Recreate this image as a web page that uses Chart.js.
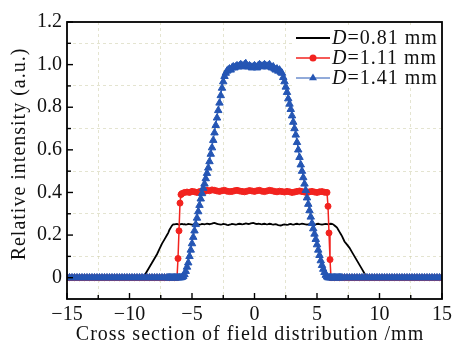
<!DOCTYPE html>
<html>
<head>
<meta charset="utf-8">
<script src="https://cdn.jsdelivr.net/npm/chart.js@4/dist/chart.umd.min.js"></script>
<style>
html,body{margin:0;padding:0;background:#fff;}
#wrap{width:456px;height:345px;}
</style>
</head>
<body>
<div id="wrap"><canvas id="c" width="456" height="345"></canvas></div>
<script>
// ---- data ----
const positionsMm = [
-15,-14.8,-14.6,-14.4,-14.2,-14,-13.8,-13.6,-13.4,-13.2,-13,-12.8,-12.6,-12.4,-12.2,-12,-11.8,-11.6,-11.4,-11.2,
-11,-10.8,-10.6,-10.4,-10.2,-10,-9.8,-9.6,-9.4,-9.2,-9,-8.8,-8.6,-8.4,-8.2,-8,-7.8,-7.6,-7.4,-7.2,-7,
-6.9,-6.8,-6.7,-6.6,-6.5,-6.4,-6.3,-6.2,-6.1,-6,-5.9,-5.8,-5.7,-5.6,-5.5,-5.4,-5.3,-5.2,-5.1,-5,
-4.9,-4.8,-4.7,-4.6,-4.5,-4.4,-4.3,-4.2,-4.1,-4,-3.9,-3.8,-3.7,-3.6,-3.5,-3.4,-3.3,-3.2,-3.1,-3,
-2.9,-2.8,-2.7,-2.6,-2.5,-2.4,-2.3,-2.2,-2.1,-2,-1.9,-1.8,-1.7,-1.6,-1.5,-1.4,-1.3,-1.2,-1.1,-1,
-0.9,-0.8,-0.7,-0.6,-0.5,-0.4,-0.3,-0.2,-0.1,0,0.1,0.2,0.3,0.4,0.5,0.6,0.7,0.8,0.9,1,
1.1,1.2,1.3,1.4,1.5,1.6,1.7,1.8,1.9,2,2.1,2.2,2.3,2.4,2.5,2.6,2.7,2.8,2.9,3,
3.1,3.2,3.3,3.4,3.5,3.6,3.7,3.8,3.9,4,4.1,4.2,4.3,4.4,4.5,4.6,4.7,4.8,4.9,5,
5.1,5.2,5.3,5.4,5.5,5.6,5.7,5.8,5.9,6,6.1,6.2,6.3,6.4,6.5,6.6,6.7,6.8,6.9,
7,7.2,7.4,7.6,7.8,8,8.2,8.4,8.6,8.8,9,9.2,9.4,9.6,9.8,10,10.2,10.4,10.6,10.8,
11,11.2,11.4,11.6,11.8,12,12.2,12.4,12.6,12.8,13,13.2,13.4,13.6,13.8,14,14.2,14.4,14.6,14.8,15
];

const intensityD081 = [
0,0,0,0,0,0,0,0,0,0,0,0,0,0,0,0,0,0,0,0,0,0,0,0,0,0,0,0,0,0,0,
0.01,0.03,0.05,0.07,0.09,0.11,0.135,0.16,0.18,0.2,
0.21,0.225,0.235,0.245,0.25,
0.25,0.251,0.252,0.25,0.249,0.251,0.252,0.25,0.251,0.249,
0.25,0.252,0.251,0.25,0.249,0.25,0.252,0.253,0.251,0.25,
0.249,0.25,0.252,0.251,0.25,0.252,0.254,0.253,0.251,0.252,
0.254,0.256,0.257,0.255,0.253,0.251,0.25,0.249,0.25,0.252,
0.251,0.25,0.248,0.247,0.249,0.25,0.252,0.251,0.25,0.249,
0.25,0.252,0.253,0.252,0.25,0.251,0.253,0.255,0.254,0.252,
0.253,0.255,0.256,0.257,0.255,0.253,0.252,0.254,0.253,0.251,
0.25,0.252,0.253,0.251,0.25,0.251,0.253,0.252,0.25,0.249,
0.25,0.251,0.249,0.247,0.246,0.245,0.247,0.249,0.25,0.249,
0.248,0.249,0.251,0.252,0.25,0.249,0.25,0.252,0.253,0.251,
0.25,0.252,0.254,0.253,0.251,0.25,0.249,0.25,0.251,0.252,
0.251,0.25,0.249,0.25,0.252,0.253,0.251,0.25,0.249,0.25,
0.251,0.252,0.251,0.25,0.252,0.253,0.252,
0.25,0.245,0.24,0.235,0.225,0.215,0.205,
0.195,0.17,0.155,0.14,0.12,0.1,0.08,0.06,0.04,0.02,0.003,
0,0,0,0,0,0,0,0,0,0,0,0,0,0,0,0,0,0,0,0,0,0,0,0,0,0,0,0,0,0
];

const intensityD141 = [
0,0,0,0,0,0,0,0,0,0,0,0,0,0,0,0,0,0,0,0,0,0,0,0,0,0,0,0,0,0,0,0,0,0,0,0,0,0,0,0,0,
0,0,0,0,0,0,0,0,0,0,0,
0.002,0.006,0.015,0.03,0.05,0.07,0.1,0.13,0.16,0.19,0.22,0.25,0.28,0.31,0.34,0.37,0.395,0.42,
0.44,0.465,0.49,0.515,0.545,0.58,0.61,0.645,0.68,0.715,0.75,0.785,0.82,0.855,0.89,0.92,0.945,0.96,
0.97,0.975,0.98,0.975,0.985,0.99,0.985,0.99,0.995,0.99,0.995,1.0,0.995,0.99,1.0,1.005,0.995,0.99,0.995,0.99,
0.985,0.99,0.995,0.99,0.985,0.995,1.0,0.995,0.99,0.995,1.0,0.995,0.99,0.995,1.0,0.99,0.985,0.99,0.98,0.975,
0.98,0.97,0.975,0.965,
0.96,0.94,0.92,0.895,0.87,0.84,0.815,0.79,0.76,0.73,0.7,0.67,0.635,0.6,0.565,0.53,0.5,0.47,0.44,0.41,
0.375,0.345,0.315,0.285,0.255,0.23,0.205,0.18,0.155,0.13,0.105,0.08,0.058,0.04,0.025,0.012,0.004,
0,0,0,0,0,0,0,0,0,0,0,
0,0,0,0,0,0,0,0,0,0,0,0,0,0,0,0,0,0,0,0,0,0,0,0,0,0,0,0,0,0,0,0,0,0,0,0,0,0,0,0,0
];

const positionsD111 = [
-15,-14.8,-14.6,-14.4,-14.2,-14,-13.8,-13.6,-13.4,-13.2,-13,-12.8,-12.6,-12.4,-12.2,-12,-11.8,-11.6,-11.4,-11.2,
-11,-10.8,-10.6,-10.4,-10.2,-10,-9.8,-9.6,-9.4,-9.2,-9,-8.8,-8.6,-8.4,-8.2,-8,-7.8,-7.6,-7.4,-7.2,
-7,-6.8,-6.6,-6.4,
-6.2,-6.12,-6.04,-5.96,-5.88,
-5.8,-5.6,-5.4,-5.2,-5,-4.8,-4.6,-4.4,-4.2,-4,
-3.8,-3.6,-3.4,-3.2,-3,-2.8,-2.6,-2.4,-2.2,-2,
-1.8,-1.6,-1.4,-1.2,-1,-0.8,-0.6,-0.4,-0.2,0,
0.2,0.4,0.6,0.8,1,1.2,1.4,1.6,1.8,2,
2.2,2.4,2.6,2.8,3,3.2,3.4,3.6,3.8,4,
4.2,4.4,4.6,4.8,5,5.2,5.4,5.6,5.8,
5.88,5.96,6.04,6.12,
6.2,6.4,6.6,6.8,7,7.2,7.4,7.6,7.8,8,8.2,8.4,8.6,8.8,9,9.2,9.4,9.6,9.8,10,
10.2,10.4,10.6,10.8,11,11.2,11.4,11.6,11.8,12,12.2,12.4,12.6,12.8,13,13.2,13.4,13.6,13.8,14,
14.2,14.4,14.6,14.8,15
];

const intensityD111 = [
0,0,0,0,0,0,0,0,0,0,0,0,0,0,0,0,0,0,0,0,
0,0,0,0,0,0,0,0,0,0,0,0,0,0,0,0,0,0,0,0,
0,0,0,0,
0,0.09,0.22,0.35,0.39,
0.395,0.4,0.402,0.4,0.405,0.403,0.4,0.404,0.406,0.405,
0.41,0.408,0.412,0.41,0.407,0.405,0.408,0.41,0.406,0.404,
0.405,0.408,0.41,0.407,0.405,0.403,0.406,0.409,0.407,0.405,
0.408,0.41,0.406,0.404,0.407,0.41,0.408,0.405,0.403,0.406,
0.404,0.402,0.405,0.403,0.4,0.402,0.405,0.407,0.404,0.402,
0.4,0.403,0.405,0.402,0.4,0.403,0.404,0.401,0.4,
0.335,0.21,0.085,0,
0,0,0,0,0,0,0,0,0,0,0,0,0,0,0,0,0,0,0,0,
0,0,0,0,0,0,0,0,0,0,0,0,0,0,0,0,0,0,0,0,
0,0,0,0,0
];

const seriesLabels = ['=0.81 mm', '=1.11 mm', '=1.41 mm'];
const xTickValues = [-15, -10, -5, 0, 5, 10, 15];
const yTickValues = [0, 0.2, 0.4, 0.6, 0.8, 1.0, 1.2];
const xTitle = 'Cross section of field distribution /mm';
const yTitle = 'Relative intensity (a.u.)';

const COLORS = ['#000000', '#f2231f', '#2556b4'];
const SERIF = '"Liberation Serif", "Times New Roman", serif';

function toPoints(xs, ys) { return xs.map((x, i) => ({x: x, y: ys[i]})); }

const fmtMinus = v => (v < 0 ? '\u2212' + Math.abs(v) : String(v));

const decorPlugin = {
  id: 'decor',
  beforeDraw(chart) {
    const ctx = chart.ctx;
    ctx.save();
    ctx.fillStyle = '#fff';
    ctx.fillRect(0, 0, chart.width, chart.height);
    ctx.restore();
  },
  afterDatasetsDraw(chart) {
    const {ctx, chartArea: a, scales} = chart;
    const xs = scales.x, ys = scales.y;
    ctx.save();
    // legend background
    ctx.fillStyle = '#fff';
    ctx.fillRect(292, 26, a.right - 293, 62);
    // inward ticks
    ctx.strokeStyle = '#000';
    ctx.lineWidth = 1.4;
    xs.ticks.forEach(t => {
      const px = xs.getPixelForValue(t.value);
      const major = Math.abs(Math.round(t.value / 2.5)) % 2 === 0;
      const len = major ? 6 : 4;
      ctx.beginPath(); ctx.moveTo(px, a.bottom); ctx.lineTo(px, a.bottom - len); ctx.stroke();
    });
    ys.ticks.forEach(t => {
      const r = Math.round(t.value * 10);
      if (r < 0) return;
      const py = ys.getPixelForValue(t.value);
      const len = (r % 2 === 0) ? 6 : 4;
      ctx.beginPath(); ctx.moveTo(a.left, py); ctx.lineTo(a.left + len, py); ctx.stroke();
    });
    // frame
    ctx.lineWidth = 1.8;
    ctx.strokeRect(a.left, a.top, a.right - a.left, a.bottom - a.top);
    ctx.restore();
  },
  afterDraw(chart) {
    const ctx = chart.ctx;
    ctx.save();
    // legend
    const rows = [38, 58, 78];
    const x0 = 296, x1 = 330, tx = 332;
    rows.forEach((ry, i) => {
      ctx.strokeStyle = COLORS[i];
      ctx.lineWidth = i === 0 ? 2 : (i === 1 ? 1.5 : 1);
      ctx.beginPath(); ctx.moveTo(x0, ry); ctx.lineTo(x1, ry); ctx.stroke();
      const mx = (x0 + x1) / 2;
      ctx.fillStyle = COLORS[i];
      if (i === 1) {
        ctx.beginPath(); ctx.arc(mx, ry, 3.5, 0, Math.PI * 2); ctx.fill();
      } else if (i === 2) {
        const r = 4.6;
        ctx.beginPath();
        ctx.moveTo(mx, ry - r);
        ctx.lineTo(mx + r * Math.sin(2 * Math.PI / 3), ry + r * 0.5);
        ctx.lineTo(mx - r * Math.sin(2 * Math.PI / 3), ry + r * 0.5);
        ctx.closePath(); ctx.fill();
      }
      ctx.fillStyle = '#111';
      ctx.textBaseline = 'middle';
      ctx.textAlign = 'left';
      ctx.letterSpacing = '1px';
      ctx.font = 'italic 20px ' + SERIF;
      ctx.fillText('D', tx, ry + 1);
      const w = ctx.measureText('D').width;
      ctx.font = '20px ' + SERIF;
      ctx.fillText(seriesLabels[i], tx + w, ry + 1);
    });
    // axis titles
    ctx.fillStyle = '#111';
    ctx.font = '20px ' + SERIF;
    ctx.letterSpacing = '1px';
    ctx.textAlign = 'center';
    ctx.textBaseline = 'middle';
    ctx.fillText(xTitle, 250, 335);
    ctx.translate(20, 154);
    ctx.rotate(-Math.PI / 2);
    ctx.fillText(yTitle, 0, 0);
    ctx.restore();
  }
};

const gridColor = 'rgba(205,205,170,0.55)';

new Chart(document.getElementById('c'), {
  type: 'line',
  data: {
    datasets: [
      {
        label: 'D' + seriesLabels[0],
        data: toPoints(positionsMm, intensityD081),
        borderColor: COLORS[0], backgroundColor: COLORS[0],
        borderWidth: 1.8, pointRadius: 0, order: 3, tension: 0
      },
      {
        label: 'D' + seriesLabels[1],
        data: toPoints(positionsD111, intensityD111),
        borderColor: COLORS[1], backgroundColor: COLORS[1],
        borderWidth: 1.5, pointStyle: 'circle', pointRadius: 3, pointBorderWidth: 1,
        pointBackgroundColor: COLORS[1], pointBorderColor: COLORS[1], order: 2, tension: 0
      },
      {
        label: 'D' + seriesLabels[2],
        data: toPoints(positionsMm, intensityD141),
        borderColor: COLORS[2], backgroundColor: COLORS[2],
        borderWidth: 1, pointStyle: 'triangle', pointRadius: 4.3, pointBorderWidth: 1,
        pointBackgroundColor: COLORS[2], pointBorderColor: COLORS[2], order: 1, tension: 0
      }
    ]
  },
  options: {
    responsive: false,
    animation: false,
    devicePixelRatio: 1,
    layout: { padding: { top: 22, right: 13, left: 0, bottom: 0 } },
    plugins: { legend: { display: false }, tooltip: { enabled: false } },
    scales: {
      x: {
        type: 'linear', min: -15, max: 15,
        afterFit(s) { s.height = 46; },
        ticks: {
          stepSize: 2.5, autoSkip: false, maxRotation: 0, padding: 4,
          color: '#111', font: { family: SERIF, size: 20 },
          callback: v => (xTickValues.includes(v) ? fmtMinus(v) : '')
        },
        grid: {
          drawTicks: false,
          color: c => (c.tick && Math.abs(Math.round(c.tick.value / 2.5)) % 2 === 1 ? gridColor : 'rgba(0,0,0,0)'),
          lineWidth: 1
        },
        border: { display: false, dash: [3, 3] }
      },
      y: {
        type: 'linear', min: -0.1, max: 1.2,
        afterFit(s) { s.width = 67; },
        ticks: {
          stepSize: 0.1, autoSkip: false, padding: 5,
          color: '#111', font: { family: SERIF, size: 20 },
          callback: v => {
            const r = Math.round(v * 10);
            if (!yTickValues.some(t => Math.round(t * 10) === r)) return '';
            return r === 0 ? '0' : (r / 10).toFixed(1);
          }
        },
        grid: {
          drawTicks: false,
          color: c => {
            if (!c.tick) return 'rgba(0,0,0,0)';
            const r = Math.round(c.tick.value * 10);
            return (r > 0 && r % 2 === 1) ? gridColor : 'rgba(0,0,0,0)';
          },
          lineWidth: 1
        },
        border: { display: false, dash: [3, 3] }
      }
    }
  },
  plugins: [decorPlugin]
});
</script>
</body>
</html>
